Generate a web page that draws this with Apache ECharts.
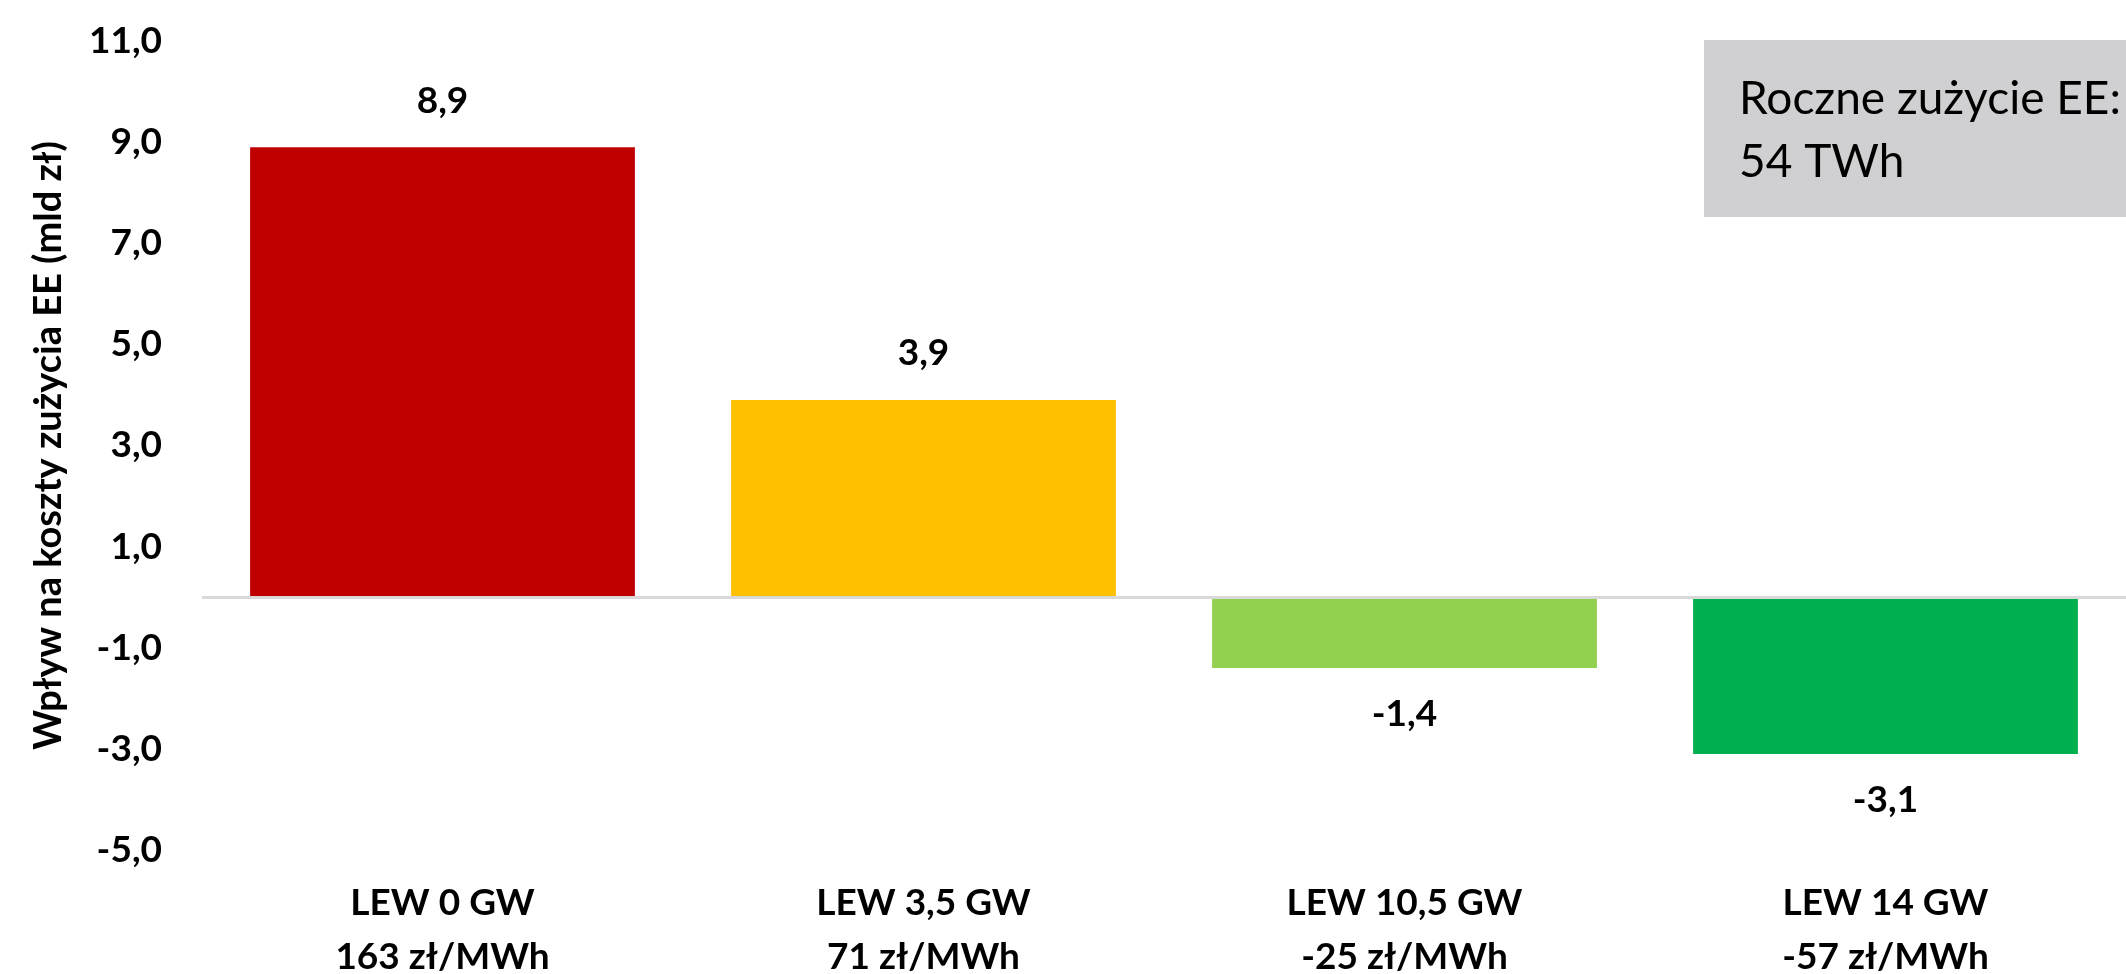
<!DOCTYPE html>
<html>
<head>
<meta charset="utf-8">
<title>Wpływ na koszty zużycia EE</title>
<script src="https://cdn.jsdelivr.net/npm/echarts@6/dist/echarts.min.js"></script>
<style>
  html, body { margin: 0; padding: 0; background: #ffffff; }
  #chart { width: 2126px; height: 974px; }
</style>
</head>
<body>
<div id="chart"></div>
<script>
// Scenario names and the resulting price change
const capacities = ['LEW 0 GW', 'LEW 3,5 GW', 'LEW 10,5 GW', 'LEW 14 GW'];
const prices = ['163 zł/MWh', '71 zł/MWh', '-25 zł/MWh', '-57 zł/MWh'];
// Impact on electricity costs, bn PLN
const impact = [8.9, 3.9, -1.4, -3.1];
// Labelled ticks on the value axis
const tickLabels = [-5, -3, -1, 1, 3, 5, 7, 9, 11];
const barColors = ['#C00000', '#FFC000', '#92D050', '#00B050'];

const categories = capacities.map((c, i) => c + '\n' + prices[i]);
const fmt = v => v.toFixed(1).replace('.', ',');
const FONT = 'Lato';
const SIZE = 37;

const chart = echarts.init(document.getElementById('chart'));
chart.setOption({
  backgroundColor: '#ffffff',
  animation: false,
  grid: {
    left: 202, right: 0, top: 41, bottom: 124,
    containLabel: false,
    outerBoundsMode: 'none'
  },
  xAxis: {
    type: 'category',
    data: categories,
    axisLine: { show: false, onZero: false },
    axisTick: { show: false },
    splitLine: { show: false },
    axisLabel: {
      interval: 0,
      margin: 26,
      color: '#000000',
      fontFamily: FONT,
      fontWeight: 'bold',
      fontSize: SIZE,
      lineHeight: 54
    }
  },
  yAxis: {
    type: 'value',
    min: -5,
    max: 11,
    interval: 1,
    name: 'Wpływ na koszty zużycia EE (mld zł)',
    nameLocation: 'middle',
    nameGap: 134,
    nameTextStyle: { color: '#000000', fontFamily: FONT, fontWeight: 'bold', fontSize: 38 },
    axisLine: { show: false },
    axisTick: { show: false },
    splitLine: { show: false },
    axisLabel: {
      margin: 40,
      color: '#000000',
      fontFamily: FONT,
      fontWeight: 'bold',
      fontSize: SIZE,
      formatter: v => (tickLabels.indexOf(Math.round(v)) >= 0 ? fmt(v) : '')
    }
  },
  series: [{
    type: 'bar',
    barCategoryGap: '20%',
    data: impact.map((v, i) => ({
      value: v,
      itemStyle: { color: barColors[i] },
      label: { position: v >= 0 ? 'top' : 'bottom' }
    })),
    label: {
      show: true,
      distance: 28,
      color: '#000000',
      fontFamily: FONT,
      fontWeight: 'bold',
      fontSize: SIZE,
      formatter: p => fmt(p.value)
    },
    markLine: {
      silent: true,
      symbol: 'none',
      label: { show: false },
      lineStyle: { color: '#d9d9d9', width: 3, type: 'solid' },
      data: [{ yAxis: 0 }]
    }
  }],
  graphic: [
    {
      type: 'rect',
      left: 1704,
      top: 40,
      shape: { width: 422, height: 177 },
      style: { fill: '#d0cfd1' }
    },
    {
      type: 'text',
      left: 1739,
      top: 68,
      style: {
        text: 'Roczne zużycie EE:\n54 TWh',
        fill: '#000000',
        font: '46px Lato',
        lineHeight: 63
      }
    }
  ]
});
</script>
</body>
</html>
